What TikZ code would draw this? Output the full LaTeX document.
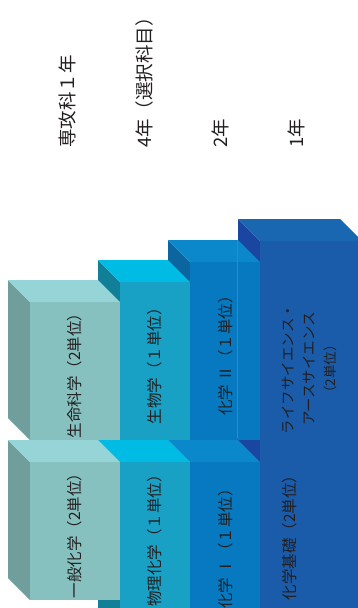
\documentclass[tikz,border=0pt]{standalone}
\usepackage{fontspec}
\setmainfont{Noto Sans CJK JP}
\definecolor{txt}{HTML}{231F20}
\definecolor{aF}{HTML}{86C1BF}\definecolor{aT}{HTML}{95D5D7}\definecolor{aS}{HTML}{6F9E9D}
\definecolor{bF}{HTML}{19A0C5}\definecolor{bT}{HTML}{00BBE3}\definecolor{bS}{HTML}{117F98}
\definecolor{cF}{HTML}{0679C0}\definecolor{cT}{HTML}{0B88CC}\definecolor{cS}{HTML}{0B66A0}
\definecolor{dF}{HTML}{1A5CA9}\definecolor{dT}{HTML}{1966B1}\definecolor{dS}{HTML}{1A45A0}
% box: #1 front left x, #2 front right x, #3 front top y, #4 front bottom y, #5 prefix of colours
\newcommand{\mybox}[5]{%
  \fill[#5S] (#1-22,#3-22) -- (#1,#3) -- (#1,#4) -- (#1-22,#4-22) -- cycle;
  \fill[#5T] (#1-22,#3-22) -- (#2-22,#3-22) -- (#2,#3) -- (#1,#3) -- cycle;
  \fill[#5F] (#1,#3) rectangle (#2,#4);
}
\begin{document}
\begin{tikzpicture}[x=1pt,y=-1pt,
  head/.style={rotate=90,anchor=west,inner sep=0pt,text=txt,font=\fontsize{18.5}{20}\selectfont},
  lbl/.style={rotate=90,inner sep=0pt,text=txt,font=\fontsize{15.5}{18}\selectfont,align=center}]
\useasboundingbox (0,0) rectangle (358,608);
\clip (0,0) rectangle (358,608);
% column 4 (1st year)
\mybox{260}{362}{241}{720}{d}
% column 3 (2nd year)
\mybox{190}{260}{262}{440}{c}
\mybox{190}{260}{462}{720}{c}
\draw[line width=0.6pt,color=cyan!40!cT] (237.5,240) -- (237.5,438);
% column 2 (4th year)
\mybox{120}{190}{282}{440}{b}
\mybox{120}{190}{462}{720}{b}
% column 1 (advanced course)
\mybox{30}{120}{302}{440}{a}
\mybox{30}{120}{462}{600}{a}
% headers
\node[head] (h1) at (67,148) {専攻科１年};
\node[head] (h2) at (144,148) {4年（選択科目）};
\node[head] (h3) at (220,148) {2年};
\node[head] (h4) at (296,148) {1年};
% labels
\node[lbl] (l1) at (75,372) {生命科学（2単位）};
\node[lbl] (l2) at (75,532) {一般化学（2単位）};
\node[lbl] (l3) at (155,362) {生物学（１単位）};
\node[lbl] (l4) at (155,537) {物理化学（１単位）};
\node[lbl] (l5) at (226,352) {化学 Ⅱ（１単位）};
\node[lbl] (l6) at (226,545) {化学 Ⅰ（１単位）};
\node[lbl,font=\fontsize{14.5}{21}\selectfont] (l7) at (309,369) {ライフサイエンス・\\アースサイエンス\\{\fontsize{13.5}{15}\selectfont（2単位）}};
\node[lbl] (l8) at (290,534) {化学基礎（2単位）};
\end{tikzpicture}
\end{document}
